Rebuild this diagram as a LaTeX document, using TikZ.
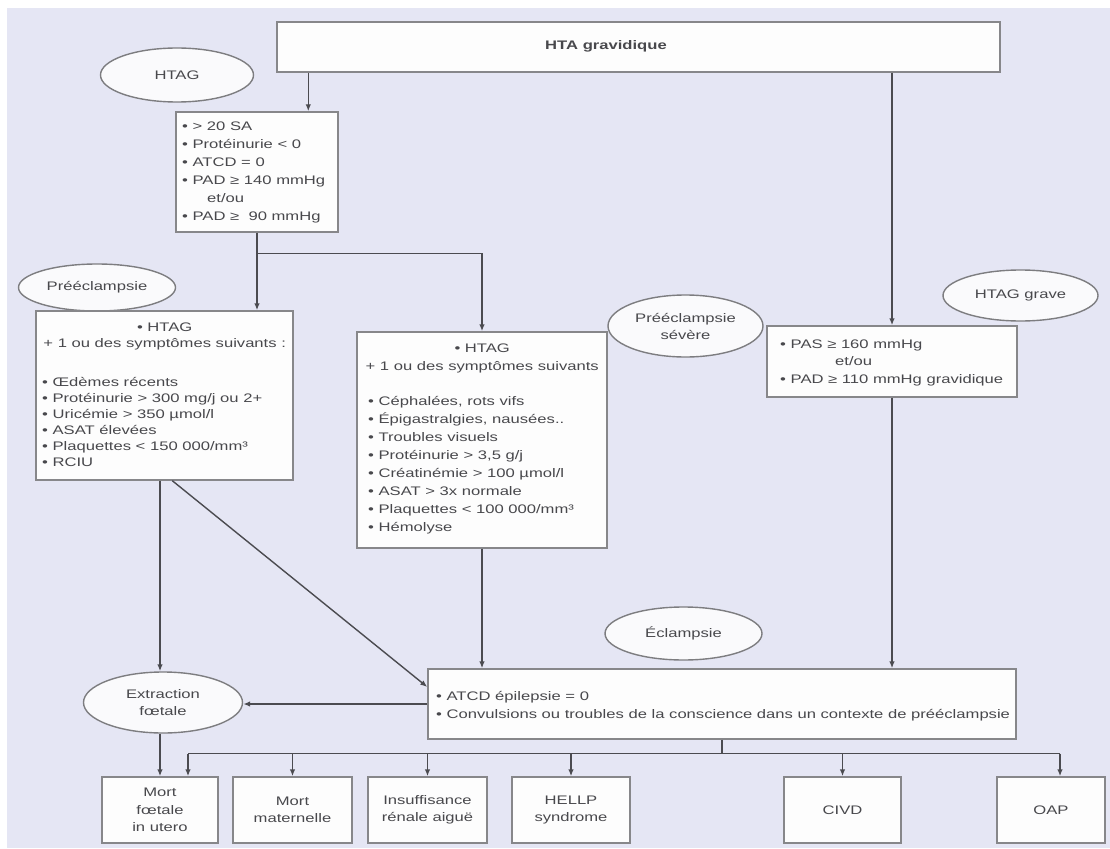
\documentclass[tikz,border=0pt]{standalone}
\usepackage{fontspec}
\setmainfont{Liberation Sans}[FakeStretch=1.34]
\usetikzlibrary{arrows.meta,shapes.geometric,calc}
\definecolor{bgc}{RGB}{229,230,244}
\definecolor{boxc}{RGB}{135,135,138}
\definecolor{boxf}{RGB}{253,253,253}
\definecolor{ovc}{RGB}{125,125,128}
\definecolor{ovf}{RGB}{250,250,252}
\definecolor{linec}{RGB}{75,75,80}
\definecolor{txtc}{RGB}{72,72,76}
\begin{document}
\begin{tikzpicture}[x=1pt,y=-1pt,
  every node/.style={font=\fontsize{12.4}{16}\selectfont},
  box/.style={draw=boxc, fill=boxf, line width=1.4pt, rectangle, inner sep=0pt},
  bbox/.style={box, minimum height=66pt, align=center, text=txtc, font=\fontsize{12.4}{17.5}\selectfont},
  oval/.style={draw=ovc, fill=ovf, line width=1.4pt, ellipse, inner sep=0pt, align=center, text=txtc, font=\fontsize{12.4}{17}\selectfont},
  txt/.style={inner sep=0pt, align=left, text=txtc, anchor=west},
  arr/.style={draw=linec, line width=1.4pt, -{Latex[length=7pt,width=5.5pt]}},
  ln/.style={draw=linec, line width=1.4pt}
]
\fill[white] (0,0) rectangle (1110,848);
\fill[bgc] (7,8) rectangle (1110,848);
\useasboundingbox (0,0) rectangle (1110,848);

% top
\node[box, minimum width=723pt, minimum height=50pt] (hta) at (638.5,47) {};
\node[inner sep=0pt, text=txtc, font=\fontsize{12.4}{16}\selectfont\bfseries] (htaT) at (606,46) {HTA gravidique};
\node[oval, minimum width=153pt, minimum height=54pt] (ohtag) at (177,75) {HTAG};

\node[box, minimum width=162pt, minimum height=120pt] (crit) at (257,172) {};
\node[txt, font=\fontsize{12.4}{18}\selectfont] (critT) at (182,172) {• > 20 SA\\• Protéinurie < 0\\• ATCD = 0\\• PAD ≥ 140 mmHg\\\hspace*{25pt}et/ou\\• PAD ≥\ \ 90 mmHg};

% preeclampsie
\node[oval, minimum width=157pt, minimum height=47pt] (opre) at (97,287.5) {Prééclampsie};
\node[box, minimum width=257pt, minimum height=169pt] (pre) at (164.5,395.5) {};
\node[txt] (preT) at (42,395) {\makebox[245pt]{• HTAG}\\\makebox[245pt]{+ 1 ou des symptômes suivants :}\\[23pt]• Œdèmes récents\\• Protéinurie > 300 mg/j ou 2+\\• Uricémie > 350 µmol/l\\• ASAT élevées\\• Plaquettes < 150 000/mm³\\• RCIU};

% middle
\node[box, minimum width=250pt, minimum height=216pt] (mid) at (482,440) {};
\node[txt, font=\fontsize{12.4}{18}\selectfont] (midT) at (368,439) {\makebox[228pt]{• HTAG}\\\makebox[228pt]{+ 1 ou des symptômes suivants}\\[17pt]• Céphalées, rots vifs\\• Épigastralgies, nausées..\\• Troubles visuels\\• Protéinurie > 3,5 g/j\\• Créatinémie > 100 µmol/l\\• ASAT > 3x normale\\• Plaquettes < 100 000/mm³\\• Hémolyse};
\node[oval, minimum width=155pt, minimum height=62pt] (osev) at (685.5,326) {Prééclampsie\\sévère};

% grave
\node[oval, minimum width=155pt, minimum height=51pt] (ograve) at (1020.5,295.5) {HTAG grave};
\node[box, minimum width=250pt, minimum height=71pt] (pas) at (892,361.5) {};
\node[txt, font=\fontsize{12.4}{17.5}\selectfont] (pasT) at (780,362.5) {• PAS ≥ 160 mmHg\\\hspace*{55pt}et/ou\\• PAD ≥ 110 mmHg gravidique};

% eclampsie
\node[oval, minimum width=157pt, minimum height=53pt] (oecl) at (683.5,633.5) {Éclampsie};
\node[box, minimum width=588pt, minimum height=70pt] (ecl) at (722,704) {};
\node[txt, font=\fontsize{12.4}{18}\selectfont] (eclT) at (436,706) {• ATCD épilepsie = 0\\• Convulsions ou troubles de la conscience dans un contexte de prééclampsie};
\node[oval, minimum width=159pt, minimum height=61pt] (oext) at (163,702.5) {Extraction\\fœtale};

% bottom
\node[bbox, minimum width=116pt] (mf) at (160,810) {Mort\\fœtale\\in utero};
\node[bbox, minimum width=119pt] (mm) at (292.5,810) {Mort\\maternelle};
\node[bbox, minimum width=119pt] (irn) at (427.5,810) {Insuffisance\\rénale aiguë};
\node[bbox, minimum width=118pt] (hellp) at (571,810) {HELLP\\syndrome};
\node[bbox, minimum width=117pt] (civd) at (842.5,810) {CIVD};
\node[bbox, minimum width=108pt] (oap) at (1051,810) {OAP};

% connectors
\path ([xshift=32pt]hta.south west) coordinate (h1);
\draw[arr] (h1) -- (h1 |- crit.north);
\draw[arr] (pas.north |- hta.south) -- (pas.north);
\draw[ln] (crit.south) -- ++(0,21) coordinate (sp);
\draw[arr] (sp) -- (sp |- pre.north);
\draw[arr] (sp) -| (mid.north);
\path ([xshift=-3pt]oext.north) coordinate (e1);
\draw[arr] (e1 |- pre.south) -- (e1);
\path ([xshift=137pt]pre.south west) coordinate (d1);
\draw[arr] (d1) -- ([yshift=17pt]ecl.west);
\draw[arr] (mid.south) -- (mid.south |- ecl.north);
\draw[arr] (pas.south) -- (pas.south |- ecl.north);
\draw[arr] (ecl.west) -- (ecl.west -| oext.east);
\path ([xshift=-3pt]oext.south) coordinate (e2);
\draw[arr] (e2) -- (e2 |- mf.north);
\draw[ln] (ecl.south) -- ++(0,14) coordinate (bus);
\path ([xshift=28pt]mf.north) coordinate (mf2);
\path ([xshift=9pt]oap.north) coordinate (oap2);
\draw[ln] (mf2 |- bus) -- (oap2 |- bus);
\draw[arr] (mf2 |- bus) -- (mf2);
\draw[arr] (mm.north |- bus) -- (mm.north);
\draw[arr] (irn.north |- bus) -- (irn.north);
\draw[arr] (hellp.north |- bus) -- (hellp.north);
\draw[arr] (civd.north |- bus) -- (civd.north);
\draw[arr] (oap2 |- bus) -- (oap2);
\end{tikzpicture}
\end{document}
